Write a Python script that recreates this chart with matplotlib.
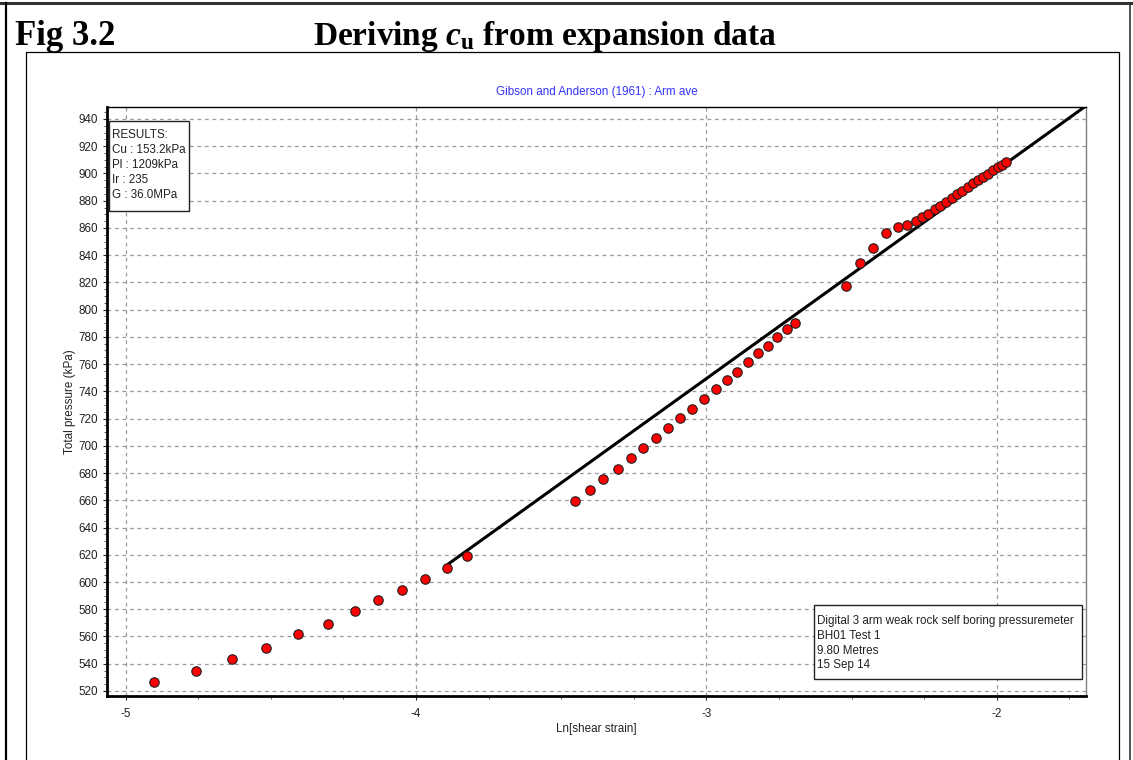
import matplotlib
matplotlib.use("Agg")
import matplotlib.pyplot as plt
import matplotlib.patches as mpatches
from matplotlib.lines import Line2D
from matplotlib.ticker import MultipleLocator
import numpy as np

# ---- data -------------------------------------------------------------
ln_strain = [
    -4.903, -4.758, -4.633, -4.515, -4.407, -4.303, -4.210, -4.131, -4.049,
    -3.969, -3.894, -3.825,
    -3.454, -3.401, -3.357, -3.305, -3.261, -3.219, -3.175, -3.132, -3.090,
    -3.049, -3.009, -2.967, -2.930, -2.894, -2.857, -2.824, -2.787, -2.756,
    -2.724, -2.694,
    -2.519, -2.470, -2.427, -2.382, -2.342, -2.309, -2.280, -2.258, -2.236,
    -2.214, -2.195, -2.174, -2.156, -2.137, -2.119, -2.101, -2.082, -2.064,
    -2.047, -2.030, -2.013, -1.997, -1.982, -1.968,
]
pressure = [
    526.6, 534.9, 543.7, 551.8, 561.9, 569.2, 578.8, 586.6, 594.4,
    602.3, 610.1, 618.9,
    659.5, 667.4, 675.9, 683.0, 690.9, 698.7, 706.0, 712.9, 720.3,
    727.3, 734.6, 741.8, 748.1, 754.5, 761.6, 768.0, 773.3, 779.7,
    785.8, 790.0,
    817.6, 834.3, 845.5, 856.3, 860.9, 862.4, 865.3, 868.3, 870.5,
    873.9, 876.1, 879.3, 882.2, 884.9, 887.4, 890.3, 892.8, 895.2,
    897.6, 899.8, 902.3, 904.5, 906.5, 908.2,
]

# Gibson & Anderson fit: p = Pl + cu * ln(shear strain)
cu_kpa = 153.2
pl_kpa = 1209.0
fit_start = -3.9

results_lines = ["RESULTS:", "Cu : 153.2kPa", "Pl : 1209kPa", "Ir : 235", "G : 36.0MPa"]
info_lines = ["Digital 3 arm weak rock self boring pressuremeter",
              "BH01 Test 1", "9.80 Metres", "15 Sep 14"]

x_ticks = [-5, -4, -3, -2]
y_ticks = list(range(520, 941, 20))

# ---- figure -----------------------------------------------------------
W, H = 1133, 760
fig = plt.figure(figsize=(W / 100, H / 100), dpi=100)
fig.patch.set_facecolor("white")


def fx(x):
    return x / W


def fy(y):
    return 1 - y / H


sans = ["Liberation Sans", "DejaVu Sans"]
fs = 8.4
ink = "#222222"
plt.rcParams["mathtext.fontset"] = "custom"
plt.rcParams["mathtext.rm"] = "Liberation Serif:bold"
plt.rcParams["mathtext.it"] = "Liberation Serif:italic:bold"
plt.rcParams["mathtext.bf"] = "Liberation Serif:bold"

# page frame
fig.add_artist(Line2D([fx(0), fx(W)], [fy(3), fy(3)], color="#333333", lw=2.2))
fig.add_artist(Line2D([fx(6), fx(6)], [fy(3), fy(H)], color="black", lw=1.6))
fig.add_artist(Line2D([fx(1130), fx(1130)], [fy(3), fy(H)], color="#333333", lw=1.2))

# chart panel
fig.add_artist(mpatches.Rectangle((fx(26), fy(H + 5)), fx(1119) - fx(26), fy(52) - fy(H + 5),
                                  fill=False, ec="black", lw=0.9))

# heading
fig.text(fx(15), fy(45), "Fig 3.2", family="Liberation Serif", weight="bold",
         fontsize=25, va="baseline", ha="left")
fig.text(fx(313), fy(45), r"Deriving $c_{\mathrm{u}}$ from expansion data",
         family="Liberation Serif", weight="bold", fontsize=24, va="baseline", ha="left")

# axes
ax = fig.add_axes([fx(107), fy(696), fx(1086) - fx(107), fy(107) - fy(696)])
ax.set_xlim(-5.064, -1.693)
ax.set_ylim(516.3, 948.8)

ax.set_xticks(x_ticks)
ax.set_xticklabels([f"{t}" for t in x_ticks])
ax.xaxis.set_minor_locator(MultipleLocator(0.25))
ax.set_yticks(y_ticks)
ax.yaxis.set_minor_locator(MultipleLocator(5))

ax.grid(True, which="major", color="#9a9a9a", linestyle=(0, (3, 3)), lw=0.9)
ax.set_axisbelow(True)

ax.tick_params(axis="both", which="major", direction="out", length=3, width=0.8,
               labelsize=fs, colors=ink, pad=3.5)
ax.tick_params(axis="x", which="major", pad=5.5)
ax.tick_params(axis="both", which="minor", direction="out", length=2, width=0.6,
               colors="#444444")
for lab in ax.get_xticklabels() + ax.get_yticklabels():
    lab.set_family(sans)

for side in ("left", "bottom"):
    ax.spines[side].set_linewidth(2.0)
    ax.spines[side].set_color("black")
ax.spines["top"].set_linewidth(1.0)
ax.spines["top"].set_color("black")
ax.spines["right"].set_linewidth(1.0)
ax.spines["right"].set_color("#808080")

# fitted line from the start of the fit range to the right edge
x_line = np.array([fit_start, ax.get_xlim()[1]])
ax.plot(x_line, pl_kpa + cu_kpa * x_line, color="black", lw=2.2, zorder=3,
        solid_capstyle="butt")

# measured points
ax.plot(ln_strain, pressure, linestyle="none", marker="o", markersize=6.8,
        markerfacecolor="#ff0000", markeredgecolor="#202020", markeredgewidth=0.8,
        zorder=4)

ax.set_xlabel("Ln[shear strain]", family=sans, fontsize=fs, color=ink, labelpad=2)
ax.set_ylabel("Total pressure (kPa)", family=sans, fontsize=fs, color=ink, labelpad=2)
ax.set_title("Gibson and Anderson (1961) : Arm ave", family=sans, fontsize=fs,
             color="#3333ff", pad=9)

# results box
fig.add_artist(mpatches.Rectangle((fx(109), fy(211)), fx(189) - fx(109), fy(121) - fy(211),
                                  fc="white", ec=ink, lw=1.0, zorder=10))
for i, s in enumerate(results_lines):
    fig.text(fx(112), fy(135 + 15 * i), s, family=sans, fontsize=fs, color=ink,
             va="center", ha="left", zorder=11)

# test information box
fig.add_artist(mpatches.Rectangle((fx(814), fy(679)), fx(1082) - fx(814), fy(605) - fy(679),
                                  fc="white", ec=ink, lw=1.0, zorder=10))
for i, s in enumerate(info_lines):
    fig.text(fx(817), fy(621 + 14.8 * i), s, family=sans, fontsize=fs, color=ink,
             va="center", ha="left", zorder=11)

fig.savefig("out.png", dpi=100, facecolor="white")
